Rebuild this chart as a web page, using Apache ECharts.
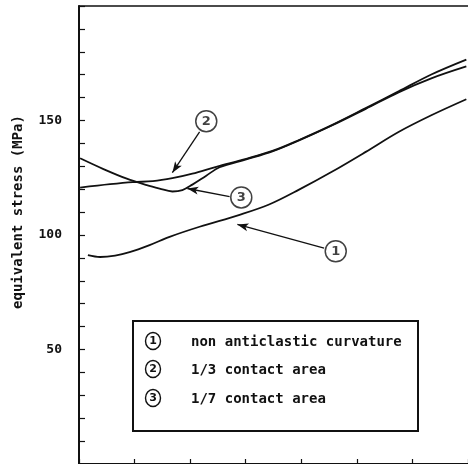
<!DOCTYPE html>
<html>
<head>
<meta charset="utf-8">
<script src="https://cdn.jsdelivr.net/npm/echarts@6/dist/echarts.min.js"></script>
<style>html,body{margin:0;padding:0;background:#fff}#c{width:468px;height:464px}</style>
</head>
<body>
<div id="c"></div>
<script>
// ---- data ----
var seriesNames = ['non anticlastic curvature', '1/3 contact area', '1/7 contact area'];
var seriesNumbers = ['1', '2', '3'];
var yTickLabels = [50, 100, 150];
var curve1 = [[0.16,91.2],[0.38,90.4],[0.65,91.0],[0.91,92.5],[1.27,95.6],[1.63,99.2],[2.17,103.6],[2.89,108.8],[3.42,113.3],[3.96,119.8],[4.55,127.6],[5.16,136.3],[5.75,145.0],[6.34,152.3],[6.97,159.3]];
var curve2 = [[0.02,120.7],[0.56,122.2],[0.97,123.1],[1.33,123.5],[1.68,124.8],[2.04,126.8],[2.47,129.8],[3.01,133.3],[3.48,136.7],[3.96,141.5],[4.55,148.0],[5.16,155.4],[5.75,162.7],[6.34,170.1],[6.97,176.6]];
var curve3 = [[0.02,133.5],[0.43,128.9],[0.86,124.6],[1.22,121.8],[1.45,120.3],[1.68,119.0],[1.86,119.6],[2.04,122.0],[2.29,125.9],[2.53,129.6],[3.01,133.0],[3.48,136.5],[3.96,141.3],[4.55,147.8],[5.16,155.1],[5.75,162.3],[6.34,168.4],[6.97,173.6]];
// annotation callouts: circle position, arrow start, arrow tip (data coords)
var calloutCircles = [[4.62,92.9],[2.29,149.7],[2.92,116.4]];
var arrowStarts = [[4.41,94.3],[2.17,145.0],[2.71,116.8]];
var arrowTips = [[2.85,104.6],[1.68,127.2],[1.95,120.3]];

var MONO = '"DejaVu Sans Mono", "Liberation Mono", monospace';
var chart = echarts.init(document.getElementById('c'), null, {renderer: 'canvas'});

var lineStyleBase = {color: '#111', width: 1.8};
function mkLine(name, data) {
  return {name: name, type: 'line', data: data, smooth: 0.35, showSymbol: false, symbol: 'none',
    lineStyle: lineStyleBase, itemStyle: {color: '#111'}, silent: true, animation: false, z: 2};
}

var arrowLines = arrowStarts.map(function (s, i) {
  return [{coord: s}, {coord: arrowTips[i]}];
});

var option = {
  animation: false,
  backgroundColor: '#fff',
  grid: {left: 79, top: 6, width: 390.6, height: 461.5},
  xAxis: [{
    type: 'value', min: 0, max: 7, interval: 1,
    axisLine: {show: true, lineStyle: {color: '#111', width: 2}},
    axisTick: {show: true, inside: true, length: 5, lineStyle: {color: '#111', width: 1.2}},
    axisLabel: {show: false}, splitLine: {show: false}
  }, {
    type: 'value', min: 0, max: 7, position: 'top',
    axisLine: {show: true, lineStyle: {color: '#111', width: 1.5}},
    axisTick: {show: false}, axisLabel: {show: false}, splitLine: {show: false}
  }],
  yAxis: {
    type: 'value', min: 0, max: 200, interval: 10,
    axisLine: {show: true, lineStyle: {color: '#111', width: 2}},
    axisTick: {show: true, inside: true, length: 6, lineStyle: {color: '#111', width: 1.2}},
    axisLabel: {
      show: true, margin: 17, color: '#111', fontFamily: MONO, fontSize: 13, fontWeight: 'bold',
      formatter: function (v) { return yTickLabels.indexOf(v) >= 0 ? String(v) : ''; }
    },
    splitLine: {show: false}
  },
  series: [
    mkLine(seriesNames[0], curve1),
    mkLine(seriesNames[1], curve2),
    mkLine(seriesNames[2], curve3),
    {
      type: 'line', data: [], silent: true, animation: false,
      markLine: {
        silent: true, animation: false,
        symbol: ['none', 'arrow'], symbolSize: [6, 11],
        label: {show: false},
        lineStyle: {color: '#111', width: 1.3, type: 'solid'},
        data: arrowLines
      }
    },
    {
      type: 'scatter', silent: true, animation: false, z: 5,
      symbol: 'circle', symbolSize: 21,
      itemStyle: {color: '#fff', borderColor: '#111', borderWidth: 1.5},
      label: {show: true, position: 'inside', color: '#111', fontFamily: '"DejaVu Sans", sans-serif', fontSize: 13, fontWeight: 'bold',
        formatter: function (p) { return p.name; }},
      data: calloutCircles.map(function (c, i) { return {name: seriesNumbers[i], value: c}; })
    }
  ],
  graphic: [
    {type: 'text', x: 18, y: 212, rotation: Math.PI / 2,
      style: {text: 'equivalent stress (MPa)', font: 'bold 14px ' + MONO, fill: '#111', align: 'center', verticalAlign: 'middle'}},
    {type: 'rect', shape: {x: 133, y: 321, width: 285, height: 110},
      style: {fill: '#fff', stroke: '#111', lineWidth: 2}, z: 10}
  ]
};

var legendY = [341, 369, 398];
seriesNames.forEach(function (n, i) {
  option.graphic.push({type: 'ellipse', shape: {cx: 153, cy: legendY[i], rx: 7.5, ry: 8.5},
    style: {fill: '#fff', stroke: '#111', lineWidth: 1.4}, z: 11});
  option.graphic.push({type: 'text', x: 153, y: legendY[i] + 0.5,
    style: {text: seriesNumbers[i], font: 'bold 11px "DejaVu Sans", sans-serif', fill: '#111', align: 'center', verticalAlign: 'middle'}, z: 12});
  option.graphic.push({type: 'text', x: 191, y: legendY[i] + 1,
    style: {text: n, font: 'bold 14px ' + MONO, fill: '#111', align: 'left', verticalAlign: 'middle'}, z: 12});
});

chart.setOption(option);
</script>
</body>
</html>
